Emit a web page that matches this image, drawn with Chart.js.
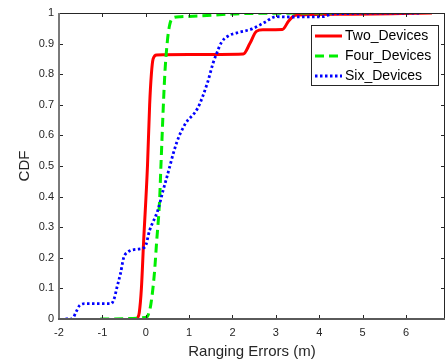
<!DOCTYPE html>
<html>
<head>
<meta charset="utf-8">
<script src="https://cdn.jsdelivr.net/npm/chart.js@4.4.1/dist/chart.umd.min.js"></script>
<style>
html,body{margin:0;padding:0;background:#fff;}
canvas{display:block;}
</style>
</head>
<body>
<canvas id="c" width="446" height="363"></canvas>
<script>
// ---- data ----
const seriesNames = ["Two_Devices", "Four_Devices", "Six_Devices"];

const twoX = [-0.2, -0.15, -0.1, -0.05, 0.04, 0.09, 0.13, 0.17, 0.25, 1.0, 2.25, 2.4, 2.55, 2.7, 3.15, 3.3, 3.45, 4.5, 6.6];
const twoY = [0, 0.02, 0.1, 0.25, 0.5, 0.7, 0.8, 0.85, 0.863, 0.864, 0.866, 0.9, 0.94, 0.945, 0.946, 0.975, 0.993, 0.996, 1.0];

const fourX = [-1.05, 0.0, 0.06, 0.12, 0.2, 0.25, 0.32, 0.35, 0.44, 0.5, 0.55, 0.62, 0.8, 1.2, 2.2, 4.3];
const fourY = [0, 0.005, 0.015, 0.05, 0.15, 0.25, 0.39, 0.5, 0.8, 0.91, 0.96, 0.984, 0.988, 0.99, 0.998, 1.0];

const sixX = [-1.85, -1.7, -1.6, -1.52, -1.4, -0.8, -0.72, -0.67, -0.58, -0.51, -0.42, -0.2, -0.02, 0.09, 0.28, 0.4, 0.48, 0.71, 0.9, 1.2, 1.43, 1.55, 1.63, 1.75, 1.9, 2.1, 2.45, 2.75, 3.0, 3.3, 4.1, 4.3, 6.35];
const sixY = [0, 0, 0.025, 0.045, 0.05, 0.05, 0.07, 0.1, 0.15, 0.2, 0.218, 0.228, 0.235, 0.29, 0.356, 0.42, 0.46, 0.575, 0.635, 0.69, 0.775, 0.835, 0.866, 0.905, 0.925, 0.935, 0.948, 0.97, 0.988, 0.987, 0.988, 0.997, 1.0];

const xTicks = [-2, -1, 0, 1, 2, 3, 4, 5, 6];
const yTicks = [0, 0.1, 0.2, 0.3, 0.4, 0.5, 0.6, 0.7, 0.8, 0.9, 1];

// ---- build ----
const pts = (xs, ys) => xs.map((x, i) => ({x: x, y: ys[i]}));
const styles = [
  {color: '#ff0000', dash: [], width: 3},
  {color: '#00ee00', dash: [9, 5], width: 3},
  {color: '#0000ff', dash: [2.5, 2.5], width: 2.8}
];
const seriesData = [pts(twoX, twoY), pts(fourX, fourY), pts(sixX, sixY)];

const datasets = seriesNames.map((name, i) => ({
  label: name,
  data: seriesData[i],
  borderColor: styles[i].color,
  backgroundColor: styles[i].color,
  borderWidth: styles[i].width,
  borderDash: styles[i].dash,
  pointRadius: 0,
  fill: false,
  cubicInterpolationMode: 'monotone',
  order: 3 - i
}));

const textColor = '#262626';
const fontFamily = '"Liberation Sans", Arial, Helvetica, sans-serif';

const framePlugin = {
  id: 'frame',
  afterDatasetsDraw(chart) {
    const {ctx, chartArea: a, scales} = chart;
    ctx.save();
    // top & right
    ctx.strokeStyle = '#262626';
    ctx.lineWidth = 1;
    ctx.beginPath();
    ctx.moveTo(a.left, a.top + 0.5); ctx.lineTo(a.right, a.top + 0.5);
    ctx.moveTo(a.right - 0.5, a.top); ctx.lineTo(a.right - 0.5, a.bottom);
    ctx.stroke();
    // ticks
    ctx.beginPath();
    xTicks.forEach(v => {
      const px = Math.round(scales.x.getPixelForValue(v)) + 0.5;
      ctx.moveTo(px, a.bottom); ctx.lineTo(px, a.bottom - 4);
      ctx.moveTo(px, a.top); ctx.lineTo(px, a.top + 4);
    });
    yTicks.forEach(v => {
      const py = Math.round(scales.y.getPixelForValue(v)) + 0.5;
      ctx.moveTo(a.left, py); ctx.lineTo(a.left + 4, py);
      ctx.moveTo(a.right, py); ctx.lineTo(a.right - 4, py);
    });
    ctx.stroke();
    // left & bottom axes
    ctx.lineWidth = 2;
    ctx.strokeStyle = '#7a7a7a';
    ctx.beginPath();
    ctx.moveTo(a.left, a.top); ctx.lineTo(a.left, a.bottom + 1);
    ctx.stroke();
    ctx.strokeStyle = '#5a5a5a';
    ctx.beginPath();
    ctx.moveTo(a.left - 1, a.bottom); ctx.lineTo(a.right, a.bottom);
    ctx.stroke();

    // legend
    const bx = 311, by = 25, bw = 127, bh = 60;
    ctx.fillStyle = '#fff';
    ctx.fillRect(bx, by, bw, bh);
    ctx.strokeStyle = '#262626';
    ctx.lineWidth = 1;
    ctx.strokeRect(bx + 0.5, by + 0.5, bw, bh);
    ctx.font = '14px ' + fontFamily;
    ctx.textBaseline = 'middle';
    ctx.textAlign = 'left';
    chart.data.datasets.forEach((ds, i) => {
      const cy = by + 11 + i * 20;
      ctx.strokeStyle = ds.borderColor;
      ctx.lineWidth = ds.borderWidth;
      ctx.setLineDash(ds.borderDash);
      ctx.beginPath();
      ctx.moveTo(315, cy); ctx.lineTo(342, cy);
      ctx.stroke();
      ctx.setLineDash([]);
      ctx.fillStyle = '#000';
      ctx.fillText(ds.label, 345, cy);
    });
    ctx.restore();
  }
};

new Chart(document.getElementById('c'), {
  type: 'line',
  data: {datasets: datasets},
  options: {
    responsive: false,
    devicePixelRatio: 1,
    animation: false,
    layout: {padding: {top: 13, right: 1, left: 0, bottom: 0}},
    plugins: {legend: {display: false}, tooltip: {enabled: false}},
    scales: {
      x: {
        type: 'linear',
        min: -2, max: 6.9,
        afterBuildTicks: s => { s.ticks = xTicks.map(v => ({value: v})); },
        afterFit: s => { s.height = 44; },
        ticks: {color: textColor, font: {size: 11, family: fontFamily}, padding: 7,
                callback: v => String(v)},
        grid: {display: false, drawTicks: false},
        border: {display: false},
        title: {display: true, text: 'Ranging Errors (m)', color: textColor,
                font: {size: 15, family: fontFamily}, padding: {top: 0, bottom: 2}}
      },
      y: {
        type: 'linear',
        min: 0, max: 1,
        afterBuildTicks: s => { s.ticks = yTicks.map(v => ({value: v})); },
        afterFit: s => { s.width = 59; },
        ticks: {color: textColor, font: {size: 11, family: fontFamily}, padding: 5,
                callback: v => String(v)},
        grid: {display: false, drawTicks: false},
        border: {display: false},
        title: {display: true, text: 'CDF', color: textColor,
                font: {size: 15, family: fontFamily}, padding: {top: 16, bottom: 0}}
      }
    }
  },
  plugins: [framePlugin]
});
</script>
</body>
</html>
